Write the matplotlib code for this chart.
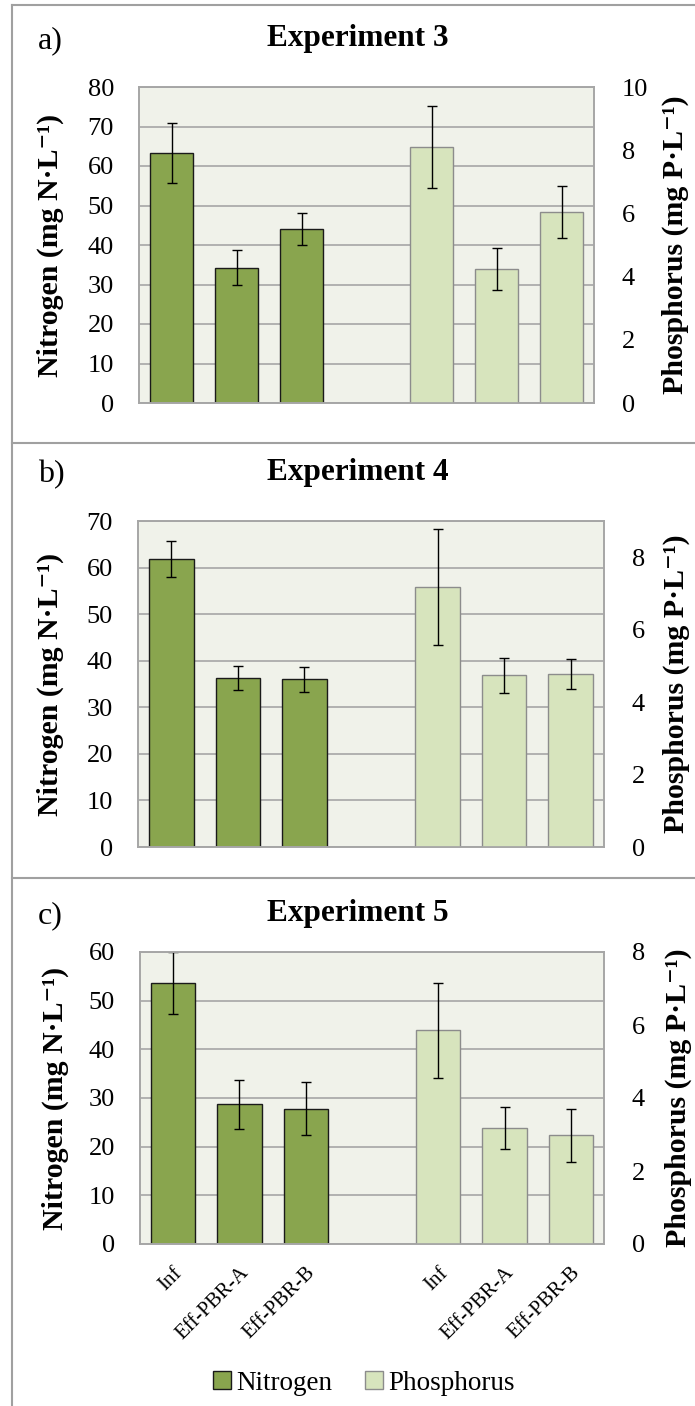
import numpy as np
import matplotlib
matplotlib.use('Agg')
import matplotlib.pyplot as plt
from matplotlib.lines import Line2D
from matplotlib.patches import Patch

plt.rcParams['font.family'] = ['Liberation Serif', 'DejaVu Serif']

# data
categories = ['Inf', 'Eff-PBR-A', 'Eff-PBR-B']
experiments = ['Experiment 3', 'Experiment 4', 'Experiment 5']
letters = ['a)', 'b)', 'c)']

n_exp3 = [63.3, 34.3, 44.1]
n_exp3_err = [7.7, 4.4, 4.0]
p_exp3 = [8.11, 4.25, 6.05]
p_exp3_err = [1.30, 0.66, 0.82]

n_exp4 = [61.8, 36.3, 36.0]
n_exp4_err = [3.9, 2.5, 2.7]
p_exp4 = [7.19, 4.74, 4.78]
p_exp4_err = [1.60, 0.49, 0.42]

n_exp5 = [53.6, 28.7, 27.8]
n_exp5_err = [6.4, 5.1, 5.4]
p_exp5 = [5.85, 3.18, 2.98]
p_exp5_err = [1.29, 0.58, 0.73]

n_data = [(n_exp3, n_exp3_err), (n_exp4, n_exp4_err), (n_exp5, n_exp5_err)]
p_data = [(p_exp3, p_exp3_err), (p_exp4, p_exp4_err), (p_exp5, p_exp5_err)]

n_max = [80, 70, 60]
p_max = [10, 9, 8]

# layout in pixels (left, right, top, bottom)
W, H = 695, 1406
boxes = [(139, 594, 87, 403), (138, 604, 521, 847), (140, 604, 952, 1244)]
title_y = [46, 480, 921]
left_lab_x = [64, 64, 69]
right_lab_x = [662, 663, 665]

n_color = '#89A54E'
p_color = '#D7E4BD'
bg_color = '#F0F2EA'
grid_color = '#A6A6A6'

fig = plt.figure(figsize=(W / 100, H / 100), dpi=100)

n_pos = np.arange(3)
p_pos = np.arange(3) + 4
bw = 0.67

for i in range(3):
    l, r, t, b = boxes[i]
    ax = fig.add_axes([l / W, 1 - b / H, (r - l) / W, (b - t) / H])
    ax2 = ax.twinx()
    ax.set_facecolor(bg_color)
    ax.set_axisbelow(True)
    ax.grid(axis='y', color=grid_color, linewidth=1.2)

    vals, errs = n_data[i]
    ax.bar(n_pos, vals, width=bw, color=n_color, edgecolor='#1a1a1a', linewidth=1.0,
           yerr=errs, error_kw=dict(ecolor='black', elinewidth=1.0, capsize=3.5, capthick=1.0))
    vals, errs = p_data[i]
    ax2.bar(p_pos, vals, width=bw, color=p_color, edgecolor='#8c8c8c', linewidth=1.0,
            yerr=errs, error_kw=dict(ecolor='black', elinewidth=1.0, capsize=3.5, capthick=1.0))

    ax.set_xlim(-0.5, 6.5)
    ax.set_ylim(0, n_max[i])
    ax.set_yticks(np.arange(0, n_max[i] + 1, 10))
    ax2.set_ylim(0, p_max[i])
    ax2.set_yticks(np.arange(0, p_max[i] + 0.1, 2))

    for a in (ax, ax2):
        for s in a.spines.values():
            s.set_color(grid_color)
            s.set_linewidth(1.2)
    ax.tick_params(axis='y', length=0, labelsize=19, pad=18)
    ax2.tick_params(axis='y', length=0, labelsize=19, pad=20)

    if i == 2:
        ax.set_xticks(np.concatenate([n_pos, p_pos]))
        ax.set_xticklabels(categories + categories, rotation=45, ha='right',
                           rotation_mode='anchor', fontsize=15)
        ax.tick_params(axis='x', length=0, pad=14)
    else:
        ax.set_xticks([])

    ax.set_ylabel('Nitrogen (mg N·L⁻¹)', fontsize=21.5, fontweight='bold')
    ax.yaxis.set_label_coords(left_lab_x[i] / W, 1 - (t + b) / 2 / H,
                              transform=fig.transFigure)
    ax2.set_ylabel('Phosphorus (mg P·L⁻¹)', fontsize=21.5, fontweight='bold')
    ax2.yaxis.set_label_coords(right_lab_x[i] / W, 1 - (t + b) / 2 / H,
                               transform=fig.transFigure)

    fig.text(358 / W, 1 - title_y[i] / H, experiments[i], ha='center', va='baseline',
             fontsize=22.5, fontweight='bold')
    fig.text(38 / W, 1 - (title_y[i] + 2) / H, letters[i], ha='left', va='baseline',
             fontsize=23)

# panel frames
frame = '#A0A0A0'
for y in (5, 443, 878):
    fig.add_artist(Line2D([12 / W, 1], [1 - y / H, 1 - y / H], color=frame, lw=1.5,
                          transform=fig.transFigure))
fig.add_artist(Line2D([12 / W, 12 / W], [1 - 5 / H, 0], color=frame, lw=1.5,
                      transform=fig.transFigure))

handles = [Patch(facecolor=n_color, edgecolor='#1a1a1a', label='Nitrogen'),
           Patch(facecolor=p_color, edgecolor='#8c8c8c', label='Phosphorus')]
fig.legend(handles=handles, loc='center', bbox_to_anchor=(364 / W, 1 - 1383 / H),
           ncol=2, frameon=False, fontsize=19.5, handlelength=0.65, handleheight=0.65,
           handletextpad=0.2, columnspacing=1.2)

fig.savefig('out.png', dpi=100)
